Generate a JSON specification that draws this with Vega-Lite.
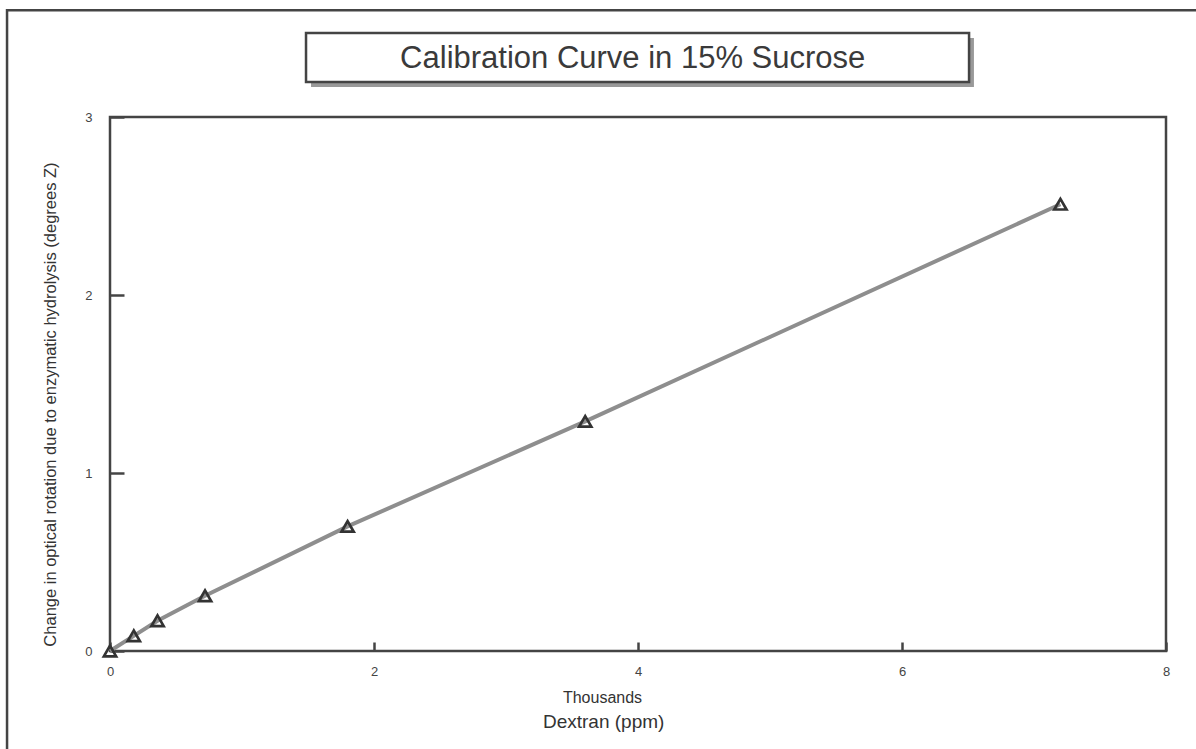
{
  "$schema": "https://vega.github.io/schema/vega-lite/v6.json",
  "width": 1056,
  "height": 534,
  "autosize": {"type": "none"},
  "padding": {"left": 110, "top": 117, "right": 30, "bottom": 98},
  "background": "white",
  "config": {
    "view": {"stroke": "#444", "strokeWidth": 2.5},
    "font": "Liberation Sans",
    "axis": {"grid": false, "domain": false}
  },
  "datasets": {
    "cal": [
      {"dextran": 0, "rotation": 0},
      {"dextran": 0.18, "rotation": 0.085},
      {"dextran": 0.36, "rotation": 0.17},
      {"dextran": 0.72, "rotation": 0.31},
      {"dextran": 1.8, "rotation": 0.70},
      {"dextran": 3.6, "rotation": 1.29},
      {"dextran": 7.2, "rotation": 2.51}
    ],
    "deco": [{"item": "frame"}]
  },
  "layer": [
    {
      "data": {"name": "deco"},
      "mark": {"type": "rect", "fill": "transparent", "stroke": "#444", "strokeWidth": 2.5, "clip": false},
      "encoding": {
        "x": {"datum": -0.78, "type": "quantitative", "scale": {"domain": [0, 8], "nice": false, "zero": false}},
        "x2": {"datum": 8.8},
        "y": {"datum": 3.6, "type": "quantitative", "scale": {"domain": [0, 3], "nice": false, "zero": false}},
        "y2": {"datum": -0.8}
      }
    },
    {
      "data": {"name": "deco"},
      "mark": {"type": "rect", "fill": "#999", "stroke": null, "clip": false},
      "encoding": {
        "x": {"datum": 1.523, "type": "quantitative"},
        "x2": {"datum": 6.545},
        "y": {"datum": 3.444, "type": "quantitative"},
        "y2": {"datum": 3.169}
      }
    },
    {
      "data": {"name": "deco"},
      "mark": {"type": "rect", "fill": "white", "stroke": "#444", "strokeWidth": 2.5, "clip": false},
      "encoding": {
        "x": {"datum": 1.485, "type": "quantitative"},
        "x2": {"datum": 6.508},
        "y": {"datum": 3.472, "type": "quantitative"},
        "y2": {"datum": 3.197}
      }
    },
    {
      "data": {"name": "deco"},
      "mark": {"type": "text", "text": "Calibration Curve in 15% Sucrose", "font": "Liberation Sans", "fontSize": 31, "color": "#3a3a3a", "align": "center", "baseline": "alphabetic", "clip": false},
      "encoding": {
        "x": {"datum": 3.96, "type": "quantitative"},
        "y": {"datum": 3.275, "type": "quantitative"}
      }
    },
    {
      "data": {"name": "deco"},
      "mark": {"type": "text", "text": "Dextran (ppm)", "font": "Liberation Sans", "fontSize": 19, "color": "#333", "align": "center", "baseline": "middle", "clip": false},
      "encoding": {
        "x": {"datum": 3.74, "type": "quantitative"},
        "y": {"datum": -0.399, "type": "quantitative"}
      }
    },
    {
      "data": {"name": "cal"},
      "mark": {"type": "line", "color": "#8e8e8e", "strokeWidth": 4},
      "encoding": {
        "x": {
          "field": "dextran", "type": "quantitative",
          "scale": {"domain": [0, 8], "nice": false, "zero": false},
          "axis": {
            "values": [0, 2, 4, 6, 8],
            "format": "d",
            "labelFlush": false,
            "title": "Thousands",
            "titleFont": "Liberation Sans",
            "titleFontSize": 16,
            "titleFontWeight": "normal",
            "titleColor": "#333",
            "titleX": 492,
            "titleY": 46,
            "titleBaseline": "middle",
            "titleAlign": "center",
            "tickSize": -9,
            "tickWidth": 2.5,
            "tickColor": "#444",
            "labelFontSize": 13,
            "labelColor": "#444",
            "labelPadding": 23
          }
        },
        "y": {
          "field": "rotation", "type": "quantitative",
          "scale": {"domain": [0, 3], "nice": false, "zero": false},
          "axis": {
            "values": [0, 1, 2, 3],
            "format": "d",
            "labelFlush": false,
            "title": "Change in optical rotation due to enzymatic hydrolysis (degrees Z)",
            "titleFont": "Liberation Sans",
            "titleFontSize": 16.5,
            "titleFontWeight": "normal",
            "titleColor": "#333",
            "titleX": -60,
            "titleY": 287,
            "titleBaseline": "middle",
            "titleAlign": "center",
            "titleAngle": -90,
            "tickSize": -14,
            "tickWidth": 2.5,
            "tickColor": "#444",
            "labelFontSize": 13,
            "labelColor": "#444",
            "labelPadding": 32
          }
        }
      }
    },
    {
      "data": {"name": "cal"},
      "mark": {"type": "point", "shape": "triangle-up", "size": 150, "filled": false, "stroke": "#333", "strokeWidth": 2.7, "opacity": 1},
      "encoding": {
        "x": {"field": "dextran", "type": "quantitative"},
        "y": {"field": "rotation", "type": "quantitative"}
      }
    }
  ]
}
